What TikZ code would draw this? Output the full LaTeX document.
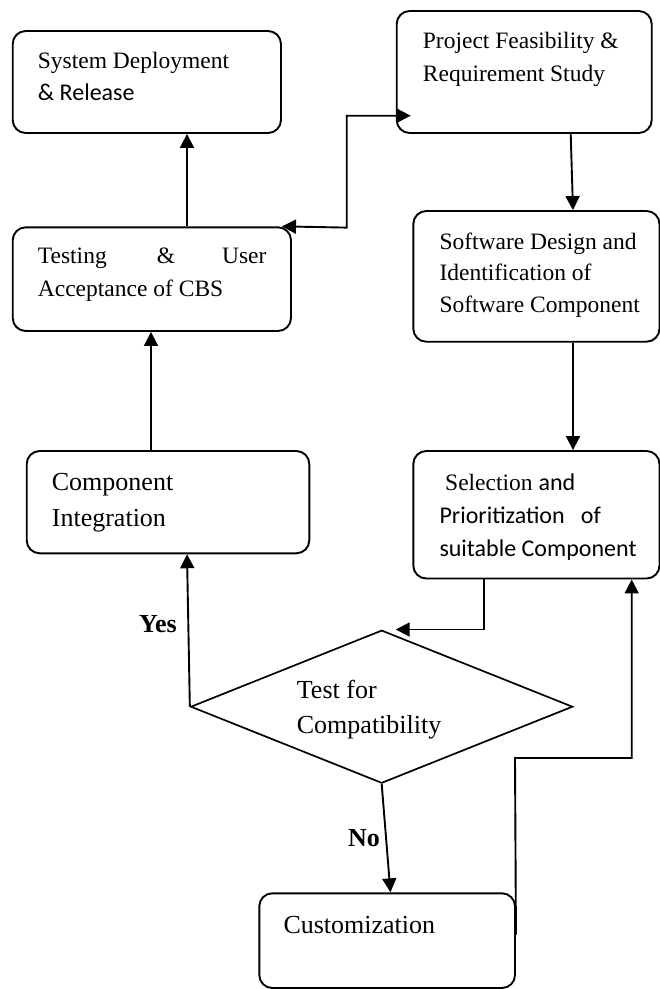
\documentclass[tikz,border=0pt]{standalone}
\usepackage{fontspec}
\setmainfont{Liberation Serif}
\newfontfamily\calib{Carlito}
\usetikzlibrary{arrows.meta,shapes.geometric,calc}
\begin{document}
\begin{tikzpicture}[x=1pt,y=-1pt,
  box/.style={draw,line width=1.9pt,rounded corners=13pt,inner sep=0pt},
  txt/.style={anchor=base west,inner sep=0pt,font=\fontsize{23.5}{28}\selectfont},
  bigtxt/.style={anchor=base west,inner sep=0pt,font=\fontsize{26}{30}\selectfont},
  caltxt/.style={anchor=base west,inner sep=0pt,font=\calib\fontsize{24}{28}\selectfont},
  lab/.style={anchor=base west,inner sep=0pt,font=\bfseries\fontsize{26}{30}\selectfont},
  arr/.style={line width=1.9pt,-{Triangle[length=14pt,width=14pt]}},
  darr/.style={line width=1.9pt,{Triangle[length=14pt,width=14pt]}-{Triangle[length=14pt,width=14pt]}}]
\useasboundingbox (0,0) rectangle (660,989);

% boxes
\node[box,minimum width=268.3pt,minimum height=102pt] (sd) at (146.85,82) {};
\node[box,minimum width=255pt,minimum height=122pt] (proj) at (524.2,72) {};
\node[box,minimum width=278.3pt,minimum height=103.7pt] (test) at (151.85,279.15) {};
\node[box,minimum width=246.2pt,minimum height=130.7pt] (sw) at (536.4,276.35) {};
\node[box,minimum width=282.6pt,minimum height=102.3pt] (ci) at (168,502.15) {};
\node[box,minimum width=246.2pt,minimum height=127.5pt] (sel) at (536.4,514.75) {};
\node[box,minimum width=255.7pt,minimum height=94.7pt] (cust) at (387.15,940.65) {};
\node[draw,line width=1.7pt,diamond,inner sep=0pt,minimum width=382pt,minimum height=153pt] (dia) at (381.7,706.7) {};

% texts
\node[txt] (sd1) at (37.7,68) {System Deployment};
\node[caltxt] (sd2) at (37.7,100) {\& Release};
\node[txt] (pr1) at (422.7,48) {Project Feasibility \&};
\node[txt] (pr2) at (422.7,81) {Requirement Study};
\node[txt] (te1) at (37.7,263.3) {Testing};
\node[txt] (te2) at (156.7,263.3) {\&};
\node[txt,anchor=base east] (te3) at (266.7,263.3) {User};
\node[txt] (te4) at (37.7,296) {Acceptance of CBS};
\node[txt] (sw1) at (439.3,249.3) {Software Design and};
\node[txt] (sw2) at (439.3,280.7) {Identification of};
\node[txt] (sw3) at (439.3,312.7) {Software Component};
\node[bigtxt] (ci1) at (51.7,490) {Component};
\node[bigtxt] (ci2) at (51.7,526) {Integration};
\node[txt] (se1) at (445,490) {Selection {\calib\fontsize{24}{28}\selectfont and}};
\node[caltxt] (se2) at (439.3,523.3) {Prioritization};
\node[caltxt] (se3) at (580.7,523.3) {of};
\node[caltxt] (se4) at (439.3,556.7) {suitable Component};
\node[bigtxt] (di1) at (296.7,698) {Test for};
\node[bigtxt] (di2) at (296.7,733) {Compatibility};
\node[bigtxt] (cu1) at (283.3,933.3) {Customization};
\node[lab] (yes) at (139,632) {Yes};
\node[lab] (no) at (348,846) {No};

% helper coordinates
\coordinate (xa) at (187,0);
\coordinate (xb) at (151,0);
\coordinate (xc) at (570.7,0);
\coordinate (xd) at (573,0);
\coordinate (xe) at (484,0);
\coordinate (xf) at (631.7,0);
\coordinate (j1) at (346.7,227.6);
\coordinate (j2) at (346.7,115.7);
\coordinate (k1) at (484,629.5);
\coordinate (m1) at (515,758);

% connectors
\draw[arr] (test.north -| xa) -- (sd.south -| xa);
\draw[darr] ([xshift=-10pt]test.north east) -- (j1) -- (j2) -- ([xshift=15pt]proj.west |- j2);
\draw[arr] (proj.south -| xc) -- (sw.north -| xd);
\draw[arr] (sw.south -| xd) -- (sel.north -| xd);
\draw[arr] (ci.north -| xb) -- (test.south -| xb);
\draw[arr] (sel.south -| xe) -- (k1) -- ([xshift=14pt]dia.north |- k1);
\draw[arr] (dia.west) -- (ci.south -| xa);
\draw[arr] (dia.south) -- ([xshift=3.3pt]cust.north);
\draw[arr] ([yshift=6pt]cust.east) -- (m1) -- (m1 -| xf) -- (sel.south -| xf);
\end{tikzpicture}
\end{document}
